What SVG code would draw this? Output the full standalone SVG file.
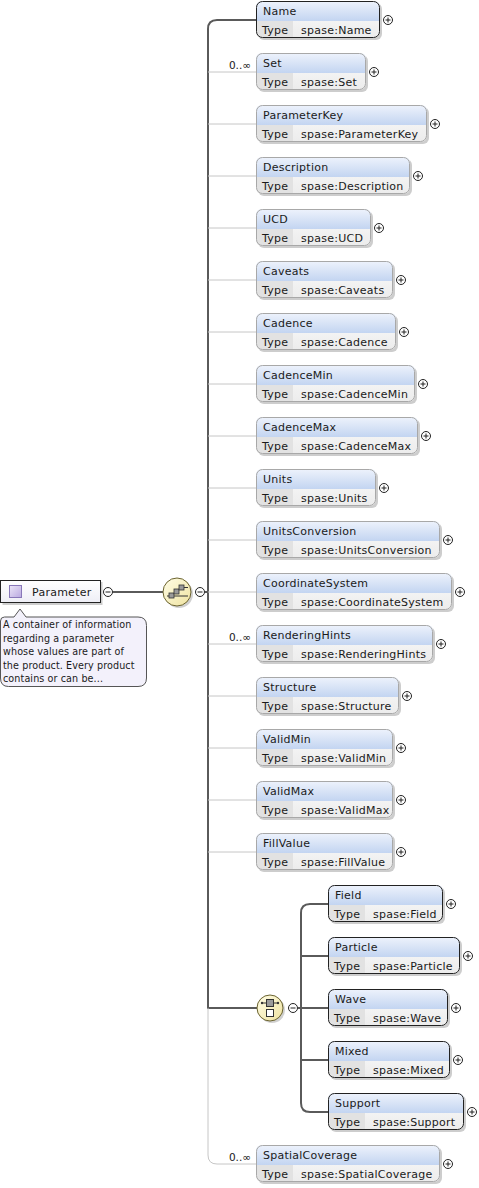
<svg xmlns="http://www.w3.org/2000/svg" width="479" height="1188" viewBox="0 0 479 1188">
<defs>
<linearGradient id="gHd" x1="0" y1="0" x2="0" y2="1"><stop offset="0" stop-color="#eef3fc"/><stop offset="1" stop-color="#c3d5f1"/></linearGradient>
<linearGradient id="gVal" x1="0" y1="0" x2="0" y2="1"><stop offset="0" stop-color="#fbfbfb"/><stop offset="1" stop-color="#ececec"/></linearGradient>
<linearGradient id="gComp" x1="0" y1="0" x2="1" y2="1"><stop offset="0" stop-color="#fffde6"/><stop offset="1" stop-color="#efe3a0"/></linearGradient>
<linearGradient id="gIcon" x1="0" y1="0" x2="1" y2="1"><stop offset="0" stop-color="#ece6f8"/><stop offset="1" stop-color="#b9a8e0"/></linearGradient>
<linearGradient id="gPar" x1="0" y1="0" x2="0" y2="1"><stop offset="0" stop-color="#ffffff"/><stop offset="1" stop-color="#eeeef6"/></linearGradient>
</defs>
<style>
text{font-family:"DejaVu Sans","Liberation Sans",sans-serif;font-size:11px;fill:#1a1a1a;letter-spacing:0.25px}
.occ{font-size:10.5px;letter-spacing:0}
.ann{font-size:9.6px;letter-spacing:0.1px}
.sh{fill:#b8b8b8;opacity:.7}
.val{fill:url(#gVal)}
.hd{fill:url(#gHd)}
.tc{fill:#e2e2e2}
.bd{fill:none;stroke:#a8a8a8;stroke-width:1}
.req .bd{stroke:#222}
.pm{fill:#fff;stroke:#222;stroke-width:1}
.pml{stroke:#222;stroke-width:1}
.dk{fill:none;stroke:#5a5a5a;stroke-width:2}
.lt{fill:none;stroke:#c6c6c6;stroke-width:1}
</style>

<g id="connectors">
<path class="dk" d="M113,592 H163"/>
<path class="dk" d="M205,592 H208"/>
<path class="dk" d="M256,20 H217 Q208,20 208,29 V1008 H257"/>
<path class="lt" d="M208,1008 V1155 Q208,1164 217,1164 H256"/>
<path class="lt" d="M208,72 H256 M208,124 H256 M208,176 H256 M208,228 H256 M208,280 H256 M208,332 H256 M208,384 H256 M208,436 H256 M208,488 H256 M208,540 H256 M208,592 H256 M208,644 H256 M208,696 H256 M208,748 H256 M208,800 H256 M208,852 H256"/>
<path class="dk" d="M298,1008 H301"/>
<path class="dk" d="M328,904 H310 Q301,904 301,913 V1103 Q301,1112 310,1112 H328"/>
<path class="dk" d="M301,956 H328 M301,1008 H328 M301,1060 H328"/>
<text class="occ" x="251" y="69" text-anchor="end">0..∞</text>
<text class="occ" x="251" y="641" text-anchor="end">0..∞</text>
<text class="occ" x="251" y="1161" text-anchor="end">0..∞</text>
</g>

<g id="Parameter">
<rect x="2.5" y="582" width="100" height="23" class="sh"/>
<rect x="0.5" y="580.5" width="100" height="22" fill="url(#gPar)" stroke="#222"/>
<rect x="9.5" y="585.5" width="12" height="12" fill="url(#gIcon)" stroke="#8877b8"/>
<text x="32" y="596">Parameter</text>
<circle cx="108" cy="592" r="4.5" class="pm"/><path class="pml" d="M105.5,592 H110.5"/>
</g>

<g id="Parameter-annotation">
<path d="M0.5,621 Q0.5,617 4.5,617 H14 L20,609 L26,617 H138 Q146.5,617 146.5,625.5 V678 Q146.5,686.5 138,686.5 H8.5 Q0.5,686.5 0.5,678 Z" fill="#f3f1fb" stroke="#555"/>
<text class="ann" x="3" y="628">A container of information</text>
<text class="ann" x="3" y="642">regarding a parameter</text>
<text class="ann" x="3" y="655">whose values are part of</text>
<text class="ann" x="3" y="669">the product. Every product</text>
<text class="ann" x="3" y="682">contains or can be...</text>
</g>

<g id="sequence">
<circle cx="179" cy="594" r="14" fill="#b0b0b0" opacity=".6"/>
<circle cx="177" cy="592" r="14" fill="url(#gComp)" stroke="#6b6330"/>
<path d="M167,596 H188" stroke="#333" stroke-width="1"/>
<rect x="169" y="593" width="5" height="5" fill="#9a9a9a" stroke="#333" stroke-width=".8"/>
<rect x="174" y="589" width="5" height="5" fill="#9a9a9a" stroke="#333" stroke-width=".8"/>
<rect x="179" y="585" width="5" height="5" fill="#9a9a9a" stroke="#333" stroke-width=".8"/>
<path d="M184,587.5 H188" stroke="#333"/>
<circle cx="200" cy="592" r="4.5" class="pm"/><path class="pml" d="M197.5,592 H202.5"/>
</g>

<g id="choice">
<circle cx="272" cy="1010" r="13" fill="#b0b0b0" opacity=".6"/>
<circle cx="270" cy="1008" r="13" fill="url(#gComp)" stroke="#6b6330"/>
<path d="M262,1003 H278" stroke="#333"/>
<circle cx="262" cy="1003" r="1.2" fill="#333"/><circle cx="278" cy="1003" r="1.2" fill="#333"/>
<rect x="266.5" y="999.5" width="7" height="7" fill="#9a9a9a" stroke="#333"/>
<rect x="266.5" y="1009.5" width="7" height="7" fill="#fff" stroke="#333"/>
<circle cx="293" cy="1008" r="4.5" class="pm"/><path class="pml" d="M290.5,1008 H295.5"/>
</g>

<g id="Name" class="req" transform="translate(256,1)">
<rect class="sh" x="2" y="2" width="124" height="37" rx="6"/>
<rect class="val" width="124" height="37" rx="6"/>
<path class="hd" d="M0,20 V6 Q0,0 6,0 H118 Q124,0 124,6 V20 Z"/>
<path class="tc" d="M0.5,20 H37 V36.5 H6 Q0.5,36.5 0.5,31 Z"/>
<rect class="bd" x="0.5" y="0.5" width="123" height="36" rx="6"/>
<text x="7" y="14">Name</text><text x="6" y="33">Type</text><text x="45" y="33">spase:Name</text>
<circle cx="132" cy="19" r="4.5" class="pm"/><path class="pml" d="M129.5,19 H134.5 M132,16.5 V21.5"/>
</g>

<g id="Set" transform="translate(256,53)">
<rect class="sh" x="2" y="2" width="110" height="37" rx="6"/>
<rect class="val" width="110" height="37" rx="6"/>
<path class="hd" d="M0,20 V6 Q0,0 6,0 H104 Q110,0 110,6 V20 Z"/>
<path class="tc" d="M0.5,20 H37 V36.5 H6 Q0.5,36.5 0.5,31 Z"/>
<rect class="bd" x="0.5" y="0.5" width="109" height="36" rx="6"/>
<text x="7" y="14">Set</text><text x="6" y="33">Type</text><text x="45" y="33">spase:Set</text>
<circle cx="118" cy="19" r="4.5" class="pm"/><path class="pml" d="M115.5,19 H120.5 M118,16.5 V21.5"/>
</g>

<g id="ParameterKey" transform="translate(256,105)">
<rect class="sh" x="2" y="2" width="171" height="37" rx="6"/>
<rect class="val" width="171" height="37" rx="6"/>
<path class="hd" d="M0,20 V6 Q0,0 6,0 H165 Q171,0 171,6 V20 Z"/>
<path class="tc" d="M0.5,20 H37 V36.5 H6 Q0.5,36.5 0.5,31 Z"/>
<rect class="bd" x="0.5" y="0.5" width="170" height="36" rx="6"/>
<text x="7" y="14">ParameterKey</text><text x="6" y="33">Type</text><text x="45" y="33">spase:ParameterKey</text>
<circle cx="179" cy="19" r="4.5" class="pm"/><path class="pml" d="M176.5,19 H181.5 M179,16.5 V21.5"/>
</g>

<g id="Description" transform="translate(256,157)">
<rect class="sh" x="2" y="2" width="154" height="37" rx="6"/>
<rect class="val" width="154" height="37" rx="6"/>
<path class="hd" d="M0,20 V6 Q0,0 6,0 H148 Q154,0 154,6 V20 Z"/>
<path class="tc" d="M0.5,20 H37 V36.5 H6 Q0.5,36.5 0.5,31 Z"/>
<rect class="bd" x="0.5" y="0.5" width="153" height="36" rx="6"/>
<text x="7" y="14">Description</text><text x="6" y="33">Type</text><text x="45" y="33">spase:Description</text>
<circle cx="162" cy="19" r="4.5" class="pm"/><path class="pml" d="M159.5,19 H164.5 M162,16.5 V21.5"/>
</g>

<g id="UCD" transform="translate(256,209)">
<rect class="sh" x="2" y="2" width="115" height="37" rx="6"/>
<rect class="val" width="115" height="37" rx="6"/>
<path class="hd" d="M0,20 V6 Q0,0 6,0 H109 Q115,0 115,6 V20 Z"/>
<path class="tc" d="M0.5,20 H37 V36.5 H6 Q0.5,36.5 0.5,31 Z"/>
<rect class="bd" x="0.5" y="0.5" width="114" height="36" rx="6"/>
<text x="7" y="14">UCD</text><text x="6" y="33">Type</text><text x="45" y="33">spase:UCD</text>
<circle cx="123" cy="19" r="4.5" class="pm"/><path class="pml" d="M120.5,19 H125.5 M123,16.5 V21.5"/>
</g>

<g id="Caveats" transform="translate(256,261)">
<rect class="sh" x="2" y="2" width="137" height="37" rx="6"/>
<rect class="val" width="137" height="37" rx="6"/>
<path class="hd" d="M0,20 V6 Q0,0 6,0 H131 Q137,0 137,6 V20 Z"/>
<path class="tc" d="M0.5,20 H37 V36.5 H6 Q0.5,36.5 0.5,31 Z"/>
<rect class="bd" x="0.5" y="0.5" width="136" height="36" rx="6"/>
<text x="7" y="14">Caveats</text><text x="6" y="33">Type</text><text x="45" y="33">spase:Caveats</text>
<circle cx="145" cy="19" r="4.5" class="pm"/><path class="pml" d="M142.5,19 H147.5 M145,16.5 V21.5"/>
</g>

<g id="Cadence" transform="translate(256,313)">
<rect class="sh" x="2" y="2" width="140" height="37" rx="6"/>
<rect class="val" width="140" height="37" rx="6"/>
<path class="hd" d="M0,20 V6 Q0,0 6,0 H134 Q140,0 140,6 V20 Z"/>
<path class="tc" d="M0.5,20 H37 V36.5 H6 Q0.5,36.5 0.5,31 Z"/>
<rect class="bd" x="0.5" y="0.5" width="139" height="36" rx="6"/>
<text x="7" y="14">Cadence</text><text x="6" y="33">Type</text><text x="45" y="33">spase:Cadence</text>
<circle cx="148" cy="19" r="4.5" class="pm"/><path class="pml" d="M145.5,19 H150.5 M148,16.5 V21.5"/>
</g>

<g id="CadenceMin" transform="translate(256,365)">
<rect class="sh" x="2" y="2" width="159" height="37" rx="6"/>
<rect class="val" width="159" height="37" rx="6"/>
<path class="hd" d="M0,20 V6 Q0,0 6,0 H153 Q159,0 159,6 V20 Z"/>
<path class="tc" d="M0.5,20 H37 V36.5 H6 Q0.5,36.5 0.5,31 Z"/>
<rect class="bd" x="0.5" y="0.5" width="158" height="36" rx="6"/>
<text x="7" y="14">CadenceMin</text><text x="6" y="33">Type</text><text x="45" y="33">spase:CadenceMin</text>
<circle cx="167" cy="19" r="4.5" class="pm"/><path class="pml" d="M164.5,19 H169.5 M167,16.5 V21.5"/>
</g>

<g id="CadenceMax" transform="translate(256,417)">
<rect class="sh" x="2" y="2" width="162" height="37" rx="6"/>
<rect class="val" width="162" height="37" rx="6"/>
<path class="hd" d="M0,20 V6 Q0,0 6,0 H156 Q162,0 162,6 V20 Z"/>
<path class="tc" d="M0.5,20 H37 V36.5 H6 Q0.5,36.5 0.5,31 Z"/>
<rect class="bd" x="0.5" y="0.5" width="161" height="36" rx="6"/>
<text x="7" y="14">CadenceMax</text><text x="6" y="33">Type</text><text x="45" y="33">spase:CadenceMax</text>
<circle cx="170" cy="19" r="4.5" class="pm"/><path class="pml" d="M167.5,19 H172.5 M170,16.5 V21.5"/>
</g>

<g id="Units" transform="translate(256,469)">
<rect class="sh" x="2" y="2" width="120" height="37" rx="6"/>
<rect class="val" width="120" height="37" rx="6"/>
<path class="hd" d="M0,20 V6 Q0,0 6,0 H114 Q120,0 120,6 V20 Z"/>
<path class="tc" d="M0.5,20 H37 V36.5 H6 Q0.5,36.5 0.5,31 Z"/>
<rect class="bd" x="0.5" y="0.5" width="119" height="36" rx="6"/>
<text x="7" y="14">Units</text><text x="6" y="33">Type</text><text x="45" y="33">spase:Units</text>
<circle cx="128" cy="19" r="4.5" class="pm"/><path class="pml" d="M125.5,19 H130.5 M128,16.5 V21.5"/>
</g>

<g id="UnitsConversion" transform="translate(256,521)">
<rect class="sh" x="2" y="2" width="184" height="37" rx="6"/>
<rect class="val" width="184" height="37" rx="6"/>
<path class="hd" d="M0,20 V6 Q0,0 6,0 H178 Q184,0 184,6 V20 Z"/>
<path class="tc" d="M0.5,20 H37 V36.5 H6 Q0.5,36.5 0.5,31 Z"/>
<rect class="bd" x="0.5" y="0.5" width="183" height="36" rx="6"/>
<text x="7" y="14">UnitsConversion</text><text x="6" y="33">Type</text><text x="45" y="33">spase:UnitsConversion</text>
<circle cx="192" cy="19" r="4.5" class="pm"/><path class="pml" d="M189.5,19 H194.5 M192,16.5 V21.5"/>
</g>

<g id="CoordinateSystem" transform="translate(256,573)">
<rect class="sh" x="2" y="2" width="196" height="37" rx="6"/>
<rect class="val" width="196" height="37" rx="6"/>
<path class="hd" d="M0,20 V6 Q0,0 6,0 H190 Q196,0 196,6 V20 Z"/>
<path class="tc" d="M0.5,20 H37 V36.5 H6 Q0.5,36.5 0.5,31 Z"/>
<rect class="bd" x="0.5" y="0.5" width="195" height="36" rx="6"/>
<text x="7" y="14">CoordinateSystem</text><text x="6" y="33">Type</text><text x="45" y="33">spase:CoordinateSystem</text>
<circle cx="204" cy="19" r="4.5" class="pm"/><path class="pml" d="M201.5,19 H206.5 M204,16.5 V21.5"/>
</g>

<g id="RenderingHints" transform="translate(256,625)">
<rect class="sh" x="2" y="2" width="177" height="37" rx="6"/>
<rect class="val" width="177" height="37" rx="6"/>
<path class="hd" d="M0,20 V6 Q0,0 6,0 H171 Q177,0 177,6 V20 Z"/>
<path class="tc" d="M0.5,20 H37 V36.5 H6 Q0.5,36.5 0.5,31 Z"/>
<rect class="bd" x="0.5" y="0.5" width="176" height="36" rx="6"/>
<text x="7" y="14">RenderingHints</text><text x="6" y="33">Type</text><text x="45" y="33">spase:RenderingHints</text>
<circle cx="185" cy="19" r="4.5" class="pm"/><path class="pml" d="M182.5,19 H187.5 M185,16.5 V21.5"/>
</g>

<g id="Structure" transform="translate(256,677)">
<rect class="sh" x="2" y="2" width="143" height="37" rx="6"/>
<rect class="val" width="143" height="37" rx="6"/>
<path class="hd" d="M0,20 V6 Q0,0 6,0 H137 Q143,0 143,6 V20 Z"/>
<path class="tc" d="M0.5,20 H37 V36.5 H6 Q0.5,36.5 0.5,31 Z"/>
<rect class="bd" x="0.5" y="0.5" width="142" height="36" rx="6"/>
<text x="7" y="14">Structure</text><text x="6" y="33">Type</text><text x="45" y="33">spase:Structure</text>
<circle cx="151" cy="19" r="4.5" class="pm"/><path class="pml" d="M148.5,19 H153.5 M151,16.5 V21.5"/>
</g>

<g id="ValidMin" transform="translate(256,729)">
<rect class="sh" x="2" y="2" width="137" height="37" rx="6"/>
<rect class="val" width="137" height="37" rx="6"/>
<path class="hd" d="M0,20 V6 Q0,0 6,0 H131 Q137,0 137,6 V20 Z"/>
<path class="tc" d="M0.5,20 H37 V36.5 H6 Q0.5,36.5 0.5,31 Z"/>
<rect class="bd" x="0.5" y="0.5" width="136" height="36" rx="6"/>
<text x="7" y="14">ValidMin</text><text x="6" y="33">Type</text><text x="45" y="33">spase:ValidMin</text>
<circle cx="145" cy="19" r="4.5" class="pm"/><path class="pml" d="M142.5,19 H147.5 M145,16.5 V21.5"/>
</g>

<g id="ValidMax" transform="translate(256,781)">
<rect class="sh" x="2" y="2" width="137" height="37" rx="6"/>
<rect class="val" width="137" height="37" rx="6"/>
<path class="hd" d="M0,20 V6 Q0,0 6,0 H131 Q137,0 137,6 V20 Z"/>
<path class="tc" d="M0.5,20 H37 V36.5 H6 Q0.5,36.5 0.5,31 Z"/>
<rect class="bd" x="0.5" y="0.5" width="136" height="36" rx="6"/>
<text x="7" y="14">ValidMax</text><text x="6" y="33">Type</text><text x="45" y="33">spase:ValidMax</text>
<circle cx="145" cy="19" r="4.5" class="pm"/><path class="pml" d="M142.5,19 H147.5 M145,16.5 V21.5"/>
</g>

<g id="FillValue" transform="translate(256,833)">
<rect class="sh" x="2" y="2" width="137" height="37" rx="6"/>
<rect class="val" width="137" height="37" rx="6"/>
<path class="hd" d="M0,20 V6 Q0,0 6,0 H131 Q137,0 137,6 V20 Z"/>
<path class="tc" d="M0.5,20 H37 V36.5 H6 Q0.5,36.5 0.5,31 Z"/>
<rect class="bd" x="0.5" y="0.5" width="136" height="36" rx="6"/>
<text x="7" y="14">FillValue</text><text x="6" y="33">Type</text><text x="45" y="33">spase:FillValue</text>
<circle cx="145" cy="19" r="4.5" class="pm"/><path class="pml" d="M142.5,19 H147.5 M145,16.5 V21.5"/>
</g>

<g id="Field" class="req" transform="translate(328,885)">
<rect class="sh" x="2" y="2" width="115" height="37" rx="6"/>
<rect class="val" width="115" height="37" rx="6"/>
<path class="hd" d="M0,20 V6 Q0,0 6,0 H109 Q115,0 115,6 V20 Z"/>
<path class="tc" d="M0.5,20 H37 V36.5 H6 Q0.5,36.5 0.5,31 Z"/>
<rect class="bd" x="0.5" y="0.5" width="114" height="36" rx="6"/>
<text x="7" y="14">Field</text><text x="6" y="33">Type</text><text x="45" y="33">spase:Field</text>
<circle cx="123" cy="19" r="4.5" class="pm"/><path class="pml" d="M120.5,19 H125.5 M123,16.5 V21.5"/>
</g>

<g id="Particle" class="req" transform="translate(328,937)">
<rect class="sh" x="2" y="2" width="132" height="37" rx="6"/>
<rect class="val" width="132" height="37" rx="6"/>
<path class="hd" d="M0,20 V6 Q0,0 6,0 H126 Q132,0 132,6 V20 Z"/>
<path class="tc" d="M0.5,20 H37 V36.5 H6 Q0.5,36.5 0.5,31 Z"/>
<rect class="bd" x="0.5" y="0.5" width="131" height="36" rx="6"/>
<text x="7" y="14">Particle</text><text x="6" y="33">Type</text><text x="45" y="33">spase:Particle</text>
<circle cx="140" cy="19" r="4.5" class="pm"/><path class="pml" d="M137.5,19 H142.5 M140,16.5 V21.5"/>
</g>

<g id="Wave" class="req" transform="translate(328,989)">
<rect class="sh" x="2" y="2" width="120" height="37" rx="6"/>
<rect class="val" width="120" height="37" rx="6"/>
<path class="hd" d="M0,20 V6 Q0,0 6,0 H114 Q120,0 120,6 V20 Z"/>
<path class="tc" d="M0.5,20 H37 V36.5 H6 Q0.5,36.5 0.5,31 Z"/>
<rect class="bd" x="0.5" y="0.5" width="119" height="36" rx="6"/>
<text x="7" y="14">Wave</text><text x="6" y="33">Type</text><text x="45" y="33">spase:Wave</text>
<circle cx="128" cy="19" r="4.5" class="pm"/><path class="pml" d="M125.5,19 H130.5 M128,16.5 V21.5"/>
</g>

<g id="Mixed" class="req" transform="translate(328,1041)">
<rect class="sh" x="2" y="2" width="122" height="37" rx="6"/>
<rect class="val" width="122" height="37" rx="6"/>
<path class="hd" d="M0,20 V6 Q0,0 6,0 H116 Q122,0 122,6 V20 Z"/>
<path class="tc" d="M0.5,20 H37 V36.5 H6 Q0.5,36.5 0.5,31 Z"/>
<rect class="bd" x="0.5" y="0.5" width="121" height="36" rx="6"/>
<text x="7" y="14">Mixed</text><text x="6" y="33">Type</text><text x="45" y="33">spase:Mixed</text>
<circle cx="130" cy="19" r="4.5" class="pm"/><path class="pml" d="M127.5,19 H132.5 M130,16.5 V21.5"/>
</g>

<g id="Support" class="req" transform="translate(328,1093)">
<rect class="sh" x="2" y="2" width="136" height="37" rx="6"/>
<rect class="val" width="136" height="37" rx="6"/>
<path class="hd" d="M0,20 V6 Q0,0 6,0 H130 Q136,0 136,6 V20 Z"/>
<path class="tc" d="M0.5,20 H37 V36.5 H6 Q0.5,36.5 0.5,31 Z"/>
<rect class="bd" x="0.5" y="0.5" width="135" height="36" rx="6"/>
<text x="7" y="14">Support</text><text x="6" y="33">Type</text><text x="45" y="33">spase:Support</text>
<circle cx="144" cy="19" r="4.5" class="pm"/><path class="pml" d="M141.5,19 H146.5 M144,16.5 V21.5"/>
</g>

<g id="SpatialCoverage" transform="translate(256,1145)">
<rect class="sh" x="2" y="2" width="184" height="37" rx="6"/>
<rect class="val" width="184" height="37" rx="6"/>
<path class="hd" d="M0,20 V6 Q0,0 6,0 H178 Q184,0 184,6 V20 Z"/>
<path class="tc" d="M0.5,20 H37 V36.5 H6 Q0.5,36.5 0.5,31 Z"/>
<rect class="bd" x="0.5" y="0.5" width="183" height="36" rx="6"/>
<text x="7" y="14">SpatialCoverage</text><text x="6" y="33">Type</text><text x="45" y="33">spase:SpatialCoverage</text>
<circle cx="192" cy="19" r="4.5" class="pm"/><path class="pml" d="M189.5,19 H194.5 M192,16.5 V21.5"/>
</g>
</svg>
